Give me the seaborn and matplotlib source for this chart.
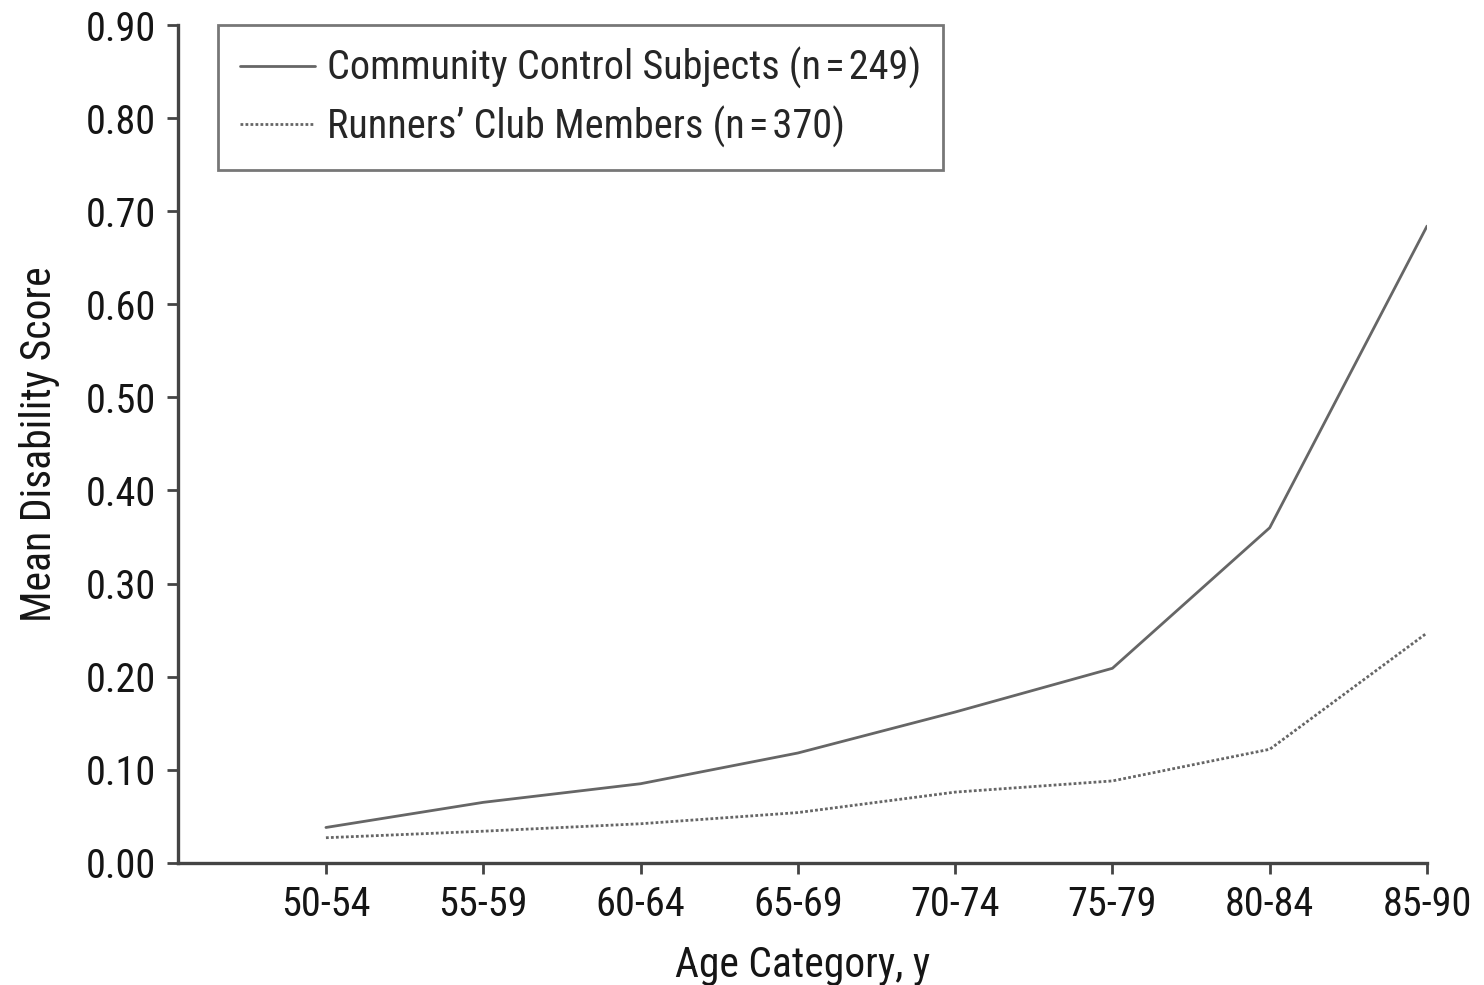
import matplotlib
matplotlib.use("Agg")
import matplotlib.pyplot as plt
import seaborn as sns
import pandas as pd

age_categories = ["50-54", "55-59", "60-64", "65-69", "70-74", "75-79", "80-84", "85-90"]
community_scores = [0.038, 0.065, 0.085, 0.118, 0.162, 0.209, 0.360, 0.684]
runners_scores = [0.027, 0.034, 0.042, 0.054, 0.076, 0.088, 0.122, 0.247]
community_label = "Community Control Subjects (n\u200a=\u200a249)"
runners_label = "Runners\u2019 Club Members (n\u200a=\u200a370)"
y_ticks = [0.0, 0.1, 0.2, 0.3, 0.4, 0.5, 0.6, 0.7, 0.8, 0.9]

sns.set_theme(style="ticks")
plt.rcParams["font.family"] = ["Roboto Condensed", "DejaVu Sans"]
plt.rcParams["font.stretch"] = "condensed"

df = pd.DataFrame({
    "pos": list(range(len(age_categories))) * 2,
    "score": community_scores + runners_scores,
    "group": [community_label] * len(age_categories) + [runners_label] * len(age_categories),
})

fig = plt.figure(figsize=(14.84, 9.85), dpi=100)
ax = fig.add_axes([0.12, 0.124, 0.8416, 0.8506])

line_color = "#666666"
sns.lineplot(
    data=df, x="pos", y="score", style="group", ax=ax,
    color=line_color, linewidth=2.0,
    dashes={community_label: "", runners_label: (1, 0.8)},
    legend=False,
)

ax.set_xlim(-0.94, 7)
ax.set_ylim(0, 0.9)
ax.set_xticks(range(len(age_categories)))
ax.set_xticklabels(age_categories)
ax.set_yticks(y_ticks)
ax.set_yticklabels([f"{v:.2f}" for v in y_ticks])

for side in ("top", "right"):
    ax.spines[side].set_visible(False)
for side in ("left", "bottom"):
    ax.spines[side].set_color("#444444")
    ax.spines[side].set_linewidth(2.4)
ax.tick_params(axis="both", colors="#444444", width=2, length=8, labelsize=29,
               labelcolor="#151515", pad=8)

ax.set_xlabel("Age Category, y", fontsize=30, color="#151515", labelpad=15)
ax.set_ylabel("Mean Disability Score", fontsize=30, color="#151515", labelpad=18)

handles = [
    plt.Line2D([], [], color=line_color, linewidth=2.0),
    plt.Line2D([], [], color=line_color, linewidth=2.0, linestyle=(0, (1, 0.8))),
]
leg = ax.legend(handles, [community_label, runners_label], loc="upper left",
                bbox_to_anchor=(0.032, 1.0), borderaxespad=0, fontsize=29,
                frameon=True, fancybox=False, handlelength=1.85, borderpad=0.55,
                labelspacing=0.4, handletextpad=0.3)
leg.get_frame().set_edgecolor("#555555")
leg.get_frame().set_linewidth(2)

fig.savefig("out.png", dpi=100)
